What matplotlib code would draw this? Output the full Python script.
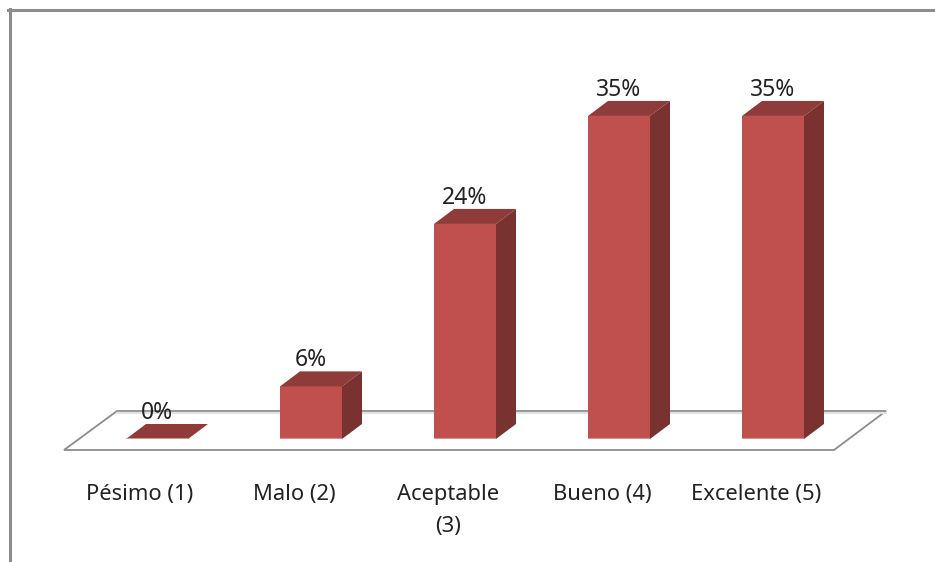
import matplotlib
matplotlib.use("Agg")
import matplotlib.pyplot as plt
from matplotlib.patches import Polygon

categories = ["Pésimo (1)", "Malo (2)", "Aceptable\n(3)", "Bueno (4)", "Excelente (5)"]
values = [0, 5.7, 23.3, 35, 35]
value_labels = ["0%", "6%", "24%", "35%", "35%"]

W, H = 935, 562
BASE_PX = 439        # pixel row of the bar bases
X0_PX = 157          # pixel column of the first bar centre
STEP_PX = 154        # pixels between bars
PX_PER_PCT = 9.23

FRONT = "#C0504D"
TOP = "#8F3B39"
SIDE = "#7A3230"
EDGE = "#D88F8D"
GRID = "#8C8C8C"

plt.rcParams["font.family"] = ["Noto Sans", "DejaVu Sans"]


def px_x(px):
    return (px - X0_PX) / STEP_PX


def px_y(px):
    return (BASE_PX - px) / PX_PER_PCT


fig = plt.figure(figsize=(W / 100, H / 100), dpi=100)
fig.patch.set_facecolor("white")
ax = fig.add_axes([0, 1 - BASE_PX / H, 1, BASE_PX / H])
ax.set_xlim(px_x(0), px_x(W))
ax.set_ylim(0, px_y(0))
ax.patch.set_alpha(0)
for spine in ax.spines.values():
    spine.set_visible(False)

bar_w = 62 / STEP_PX
depth_x = 20 / STEP_PX
depth_y = 15 / PX_PER_PCT

# floor of the 3d box
floor = [(px_x(64), px_y(450)), (px_x(834), px_y(450)), (px_x(886), px_y(411)), (px_x(117), px_y(411))]
ax.add_patch(Polygon(floor, closed=True, facecolor="white", edgecolor=GRID, linewidth=1.3, clip_on=False, zorder=1))
ax.plot([px_x(117), px_x(886)], [px_y(412.5), px_y(412.5)], color="#E2E2E2", linewidth=1.5, clip_on=False, zorder=1)

for i, v in enumerate(values):
    left = i - bar_w / 2
    right = i + bar_w / 2
    ax.bar(i, v, width=bar_w, color=FRONT, zorder=3)
    top_face = [(left, v), (right, v), (right + depth_x, v + depth_y), (left + depth_x, v + depth_y)]
    side_face = [(right, 0), (right + depth_x, depth_y), (right + depth_x, v + depth_y), (right, v)]
    ax.add_patch(Polygon(top_face, closed=True, facecolor=TOP, edgecolor="none", clip_on=False, zorder=3))
    if v > 0:
        ax.add_patch(Polygon(side_face, closed=True, facecolor=SIDE, edgecolor="none", clip_on=False, zorder=3))
    ax.plot([left, right], [0, 0], color=EDGE, linewidth=1.5, solid_capstyle="butt", zorder=4)
    ax.text(i, v + depth_y - 0.12, value_labels[i], ha="center", va="bottom", fontsize=16.5,
            color="#222222", zorder=5)

ax.set_yticks([])
ax.set_xticks([i - 0.11 for i in range(len(categories))])
ax.set_xticklabels(categories, fontsize=15.8, color="#222222", linespacing=1.7)
ax.tick_params(axis="x", length=0, pad=32.5)

# chart frame, only top and left are in the crop
fig.add_artist(plt.Line2D([9.5 / W, 9.5 / W], [0, 1 - 9 / H], color=GRID, linewidth=2.2))
fig.add_artist(plt.Line2D([8 / W, 1], [1 - 10 / H, 1 - 10 / H], color=GRID, linewidth=2.2))

fig.savefig("out.png", dpi=100, facecolor="white")
